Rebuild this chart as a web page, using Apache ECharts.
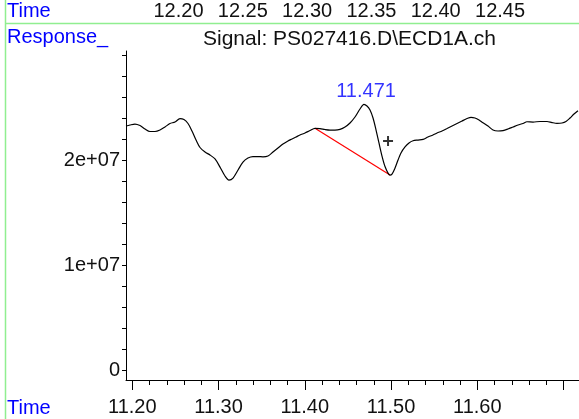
<!DOCTYPE html>
<html>
<head>
<meta charset="utf-8">
<script src="https://cdn.jsdelivr.net/npm/echarts@6/dist/echarts.min.js"></script>
<style>
  html, body { margin: 0; padding: 0; background: #fff; }
  #main { width: 579px; height: 419px; }
</style>
</head>
<body>
<div id="main"></div>
<script>
// retention time (min) and detector response (millions of counts)
const times = [11.1927, 11.1973, 11.2031, 11.2089, 11.2147, 11.2205, 11.2263, 11.2321, 11.2379, 11.2437,
  11.2495, 11.2553, 11.2599, 11.2646, 11.2692, 11.2739, 11.2785, 11.2843, 11.2901, 11.2959,
  11.3017, 11.3075, 11.3121, 11.3168, 11.3226, 11.3283, 11.3341, 11.3399, 11.3457, 11.3515,
  11.3573, 11.3631, 11.3689, 11.3747, 11.3805, 11.3852, 11.3898, 11.3944, 11.4002, 11.4060,
  11.4118, 11.4176, 11.4234, 11.4292, 11.4350, 11.4408, 11.4466, 11.4524, 11.4582, 11.4640,
  11.4686, 11.4721, 11.4756, 11.4791, 11.4826, 11.4860, 11.4895, 11.4930, 11.4965, 11.4988,
  11.5011, 11.5046, 11.5081, 11.5115, 11.5162, 11.5208, 11.5255, 11.5313, 11.5371, 11.5428,
  11.5486, 11.5533, 11.5591, 11.5649, 11.5707, 11.5765, 11.5823, 11.5881, 11.5927, 11.5973,
  11.6020, 11.6066, 11.6124, 11.6182, 11.6240, 11.6298, 11.6356, 11.6414, 11.6472, 11.6530,
  11.6576, 11.6646, 11.6727, 11.6808, 11.6866, 11.6924, 11.6982, 11.7028, 11.7075, 11.7121,
  11.7167]
const response = [23.23, 23.33, 23.42, 23.28, 22.95, 22.71, 22.71, 22.85, 23.14, 23.47,
  23.61, 23.94, 23.85, 23.47, 22.76, 21.90, 21.19, 20.76, 20.48, 20.10,
  19.33, 18.48, 18.10, 18.29, 19.05, 19.81, 20.19, 20.33, 20.33, 20.30,
  20.38, 20.76, 21.14, 21.52, 21.81, 22.00, 22.19, 22.38, 22.57, 22.80,
  23.01, 22.99, 22.90, 22.85, 22.85, 22.92, 23.14, 23.52, 24.09, 24.85,
  25.29, 25.13, 24.75, 23.99, 22.85, 21.62, 20.38, 19.38, 18.76, 18.57,
  18.67, 19.24, 20.00, 20.67, 21.24, 21.62, 21.83, 21.90, 21.97, 22.19,
  22.38, 22.57, 22.76, 22.99, 23.23, 23.47, 23.71, 23.94, 24.06, 23.99,
  23.80, 23.54, 23.23, 22.85, 22.76, 22.80, 22.95, 23.14, 23.33, 23.47,
  23.64, 23.61, 23.66, 23.66, 23.56, 23.49, 23.52, 23.66, 23.99, 24.37,
  24.68]

// integration baseline (red) and peak marks
const baselineTimes = [11.4118, 11.4988]
const baselineValues = [23.01, 18.57]
const peakTime = 11.471
const peakValue = 25.29
const plusMark = [11.4965, 21.81]

// tick labels
const bottomLabels = [11.20, 11.30, 11.40, 11.50, 11.60]
const bottomMajorTicks = [11.20, 11.30, 11.40, 11.50, 11.60, 11.70]
const bottomMinorTicks = [11.22, 11.24, 11.26, 11.28, 11.32, 11.34, 11.36, 11.38, 11.42, 11.44, 11.46, 11.48,
  11.52, 11.54, 11.56, 11.58, 11.62, 11.64, 11.66, 11.68]
const topLabels = [12.20, 12.25, 12.30, 12.35, 12.40, 12.45]
const yLabels = [0, 10, 20]
const yTicks = [0, 2, 4, 6, 8, 10, 12, 14, 16, 18, 20, 22, 24, 26, 28, 30]

const font = 'Liberation Sans, Arial, sans-serif'
const blue = '#0000ff'
const green = '#90ee90'

function sci(v) {
  if (v === 0) return '0'
  return (v * 1e6).toExponential(0).replace(/e([+-])(\d)$/, 'e$10$2')
}

const chart = echarts.init(document.getElementById('main'), null, { renderer: 'canvas' })

const gridRect = { left: 126, right: 0, top: 51, bottom: 39 }
const xMin = 11.1927
const xMax = 11.7179

chart.setOption({
  animation: false,
  backgroundColor: '#fff',
  textStyle: { fontFamily: font },
  grid: [
    Object.assign({}, gridRect),
    Object.assign({}, gridRect)
  ],
  xAxis: [{
    type: 'value',
    gridIndex: 0,
    position: 'bottom',
    min: xMin,
    max: xMax,
    axisLine: { onZero: false, lineStyle: { color: '#000', width: 1 } },
    axisTick: { show: true, length: 10, customValues: bottomMajorTicks, lineStyle: { color: '#000' } },
    axisLabel: {
      customValues: bottomLabels,
      margin: 17,
      color: '#111',
      fontSize: 20,
      fontFamily: font,
      formatter: v => v.toFixed(2)
    },
    splitLine: { show: false }
  }, {
    type: 'value',
    gridIndex: 0,
    position: 'top',
    min: 12.1592,
    max: 12.5114,
    offset: 30,
    axisLine: { show: false, onZero: false },
    axisTick: { show: false },
    axisLabel: {
      customValues: topLabels,
      margin: 0,
      color: '#111',
      fontSize: 20,
      fontFamily: font,
      formatter: v => v.toFixed(2)
    },
    splitLine: { show: false }
  }, {
    // minor ticks of the time axis
    type: 'value',
    gridIndex: 1,
    position: 'bottom',
    min: xMin,
    max: xMax,
    axisLine: { show: false, onZero: false },
    axisTick: { show: true, length: 5, customValues: bottomMinorTicks, lineStyle: { color: '#000' } },
    axisLabel: { show: false },
    splitLine: { show: false }
  }],
  yAxis: [{
    type: 'value',
    gridIndex: 0,
    min: -0.9,
    max: 30.36,
    axisLine: { show: true, onZero: false, lineStyle: { color: '#000', width: 1 } },
    axisTick: { show: true, length: 4, customValues: yTicks, lineStyle: { color: '#000' } },
    axisLabel: {
      customValues: yLabels,
      margin: 6,
      color: '#111',
      fontSize: 20,
      fontFamily: font,
      formatter: sci
    },
    splitLine: { show: false }
  }, {
    type: 'value',
    gridIndex: 1,
    min: -0.9,
    max: 30.36,
    show: false
  }],
  series: [{
    type: 'line',
    xAxisIndex: 0,
    yAxisIndex: 0,
    data: times.map((t, i) => [t, response[i]]),
    showSymbol: false,
    smooth: 0.3,
    lineStyle: { color: '#000', width: 1.2 },
    z: 3
  }, {
    type: 'line',
    xAxisIndex: 0,
    yAxisIndex: 0,
    data: baselineTimes.map((t, i) => [t, baselineValues[i]]),
    showSymbol: false,
    lineStyle: { color: '#ff0000', width: 1.2 },
    z: 2
  }, {
    type: 'scatter',
    xAxisIndex: 0,
    yAxisIndex: 0,
    data: [[peakTime, peakValue]],
    symbolSize: 0,
    label: {
      show: true,
      position: 'top',
      distance: 3,
      color: blue,
      fontSize: 20,
      fontFamily: font,
      formatter: () => peakTime.toFixed(3)
    }
  }, {
    type: 'scatter',
    xAxisIndex: 0,
    yAxisIndex: 0,
    data: [plusMark],
    symbol: 'path://M4,0H6V4H10V6H6V10H4V6H0V4H4Z',
    symbolSize: 10,
    itemStyle: { color: '#000' }
  }],
  graphic: [
    { type: 'line', shape: { x1: 5.5, y1: 0, x2: 5.5, y2: 419 }, style: { stroke: green, lineWidth: 1.5 }, silent: true },
    { type: 'line', shape: { x1: 5, y1: 23.5, x2: 579, y2: 23.5 }, style: { stroke: green, lineWidth: 1.5 }, silent: true },
    { type: 'text', left: 7, top: 1, style: { text: 'Time', fill: blue, font: '20px ' + font } },
    { type: 'text', left: 7, top: 27, style: { text: 'Response_', fill: blue, font: '20px ' + font } },
    { type: 'text', left: 203, top: 29, style: { text: 'Signal: PS027416.D\\ECD1A.ch', fill: '#111', font: '21px ' + font } },
    { type: 'text', left: 7, top: 398, style: { text: 'Time', fill: blue, font: '20px ' + font } }
  ]
})
</script>
</body>
</html>
